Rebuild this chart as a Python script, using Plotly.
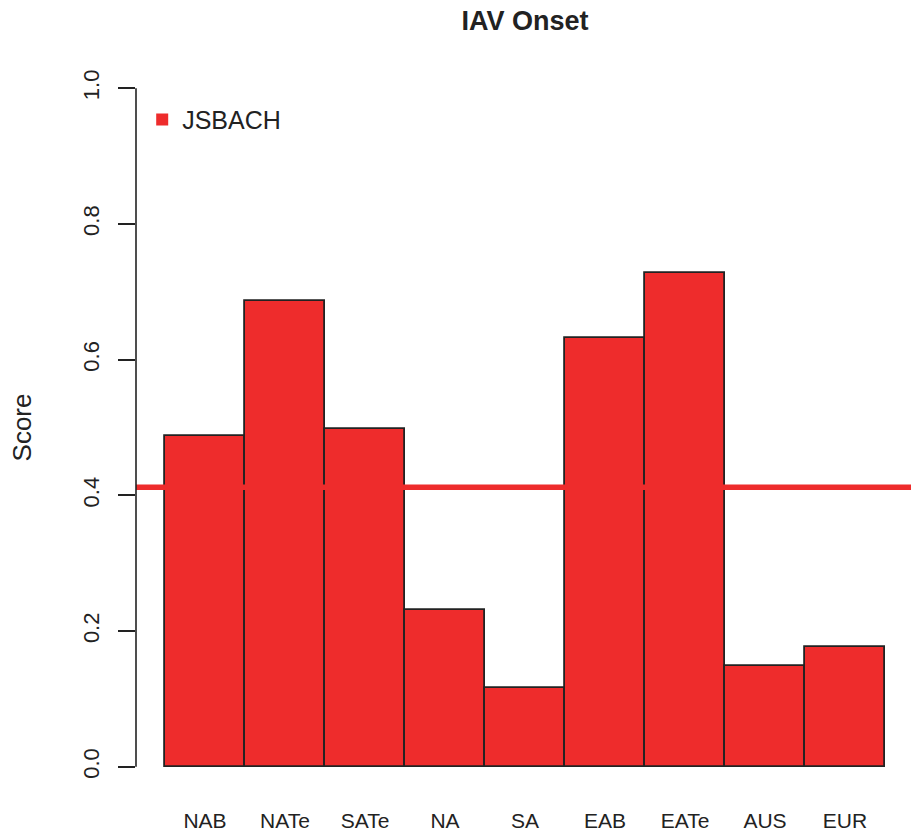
import plotly.graph_objects as go

# Regional onset scores for JSBACH
regions = ["NAB", "NATe", "SATe", "NA", "SA", "EAB", "EATe", "AUS", "EUR"]
scores = [0.488, 0.686, 0.498, 0.231, 0.116, 0.632, 0.727, 0.148, 0.176]
overall_score = 0.412
y_ticks = [0.0, 0.2, 0.4, 0.6, 0.8, 1.0]
y_tick_labels = ["0.0", "0.2", "0.4", "0.6", "0.8", "1.0"]

RED = "#EE2C2C"
INK = "#222222"
FONT = "Liberation Sans, Arial, sans-serif"

fig = go.Figure()

fig.add_trace(go.Bar(
    x=regions,
    y=scores,
    width=1.0,
    marker=dict(color=RED, line=dict(color=INK, width=1.8)),
    showlegend=False,
    hoverinfo="x+y",
))

# legend entry
fig.add_trace(go.Scatter(
    x=[None], y=[None],
    mode="markers",
    marker=dict(symbol="square", size=12, color=RED),
    name="JSBACH",
    showlegend=True,
))

# overall score reference line
fig.add_shape(
    type="line", xref="paper", yref="y",
    x0=0, x1=1, y0=overall_score, y1=overall_score,
    line=dict(color=RED, width=5.5), layer="above",
)

# y axis line spanning only the tick range
fig.add_shape(
    type="line", xref="paper", yref="y",
    x0=0, x1=0, y0=y_ticks[0], y1=y_ticks[-1],
    line=dict(color=INK, width=1.6), layer="above",
)

fig.update_layout(
    width=911, height=832,
    margin=dict(l=136, r=0, t=61, b=35),
    paper_bgcolor="white", plot_bgcolor="white",
    font=dict(family=FONT, color=INK),
    title=dict(
        text="<b>IAV Onset</b>",
        x=525 / 911, xanchor="center",
        y=1 - 21 / 832, yanchor="middle",
        font=dict(size=27, color=INK, family=FONT),
    ),
    bargap=0,
    showlegend=True,
    legend=dict(
        x=0.008, y=0.92, xanchor="left", yanchor="middle",
        font=dict(size=25, color=INK, family=FONT),
        bgcolor="rgba(0,0,0,0)",
        itemsizing="trace",
    ),
    xaxis=dict(
        range=[-0.8625, 8.825],
        showline=False, showgrid=False, zeroline=False,
        ticks="", tickfont=dict(size=21, color=INK, family=FONT),
        ticklabelstandoff=12,
        fixedrange=True,
    ),
    yaxis=dict(
        range=[-0.04, 1.04],
        tickvals=y_ticks, ticktext=y_tick_labels,
        tickangle=-90,
        ticks="outside", ticklen=17, tickwidth=1.6, tickcolor=INK,
        ticklabelstandoff=10,
        showline=False, showgrid=False, zeroline=False,
        tickfont=dict(size=22, color=INK, family=FONT),
        title=dict(text="Score", font=dict(size=26, color=INK, family=FONT), standoff=40),
        fixedrange=True,
    ),
)

fig.write_html("out.html")
